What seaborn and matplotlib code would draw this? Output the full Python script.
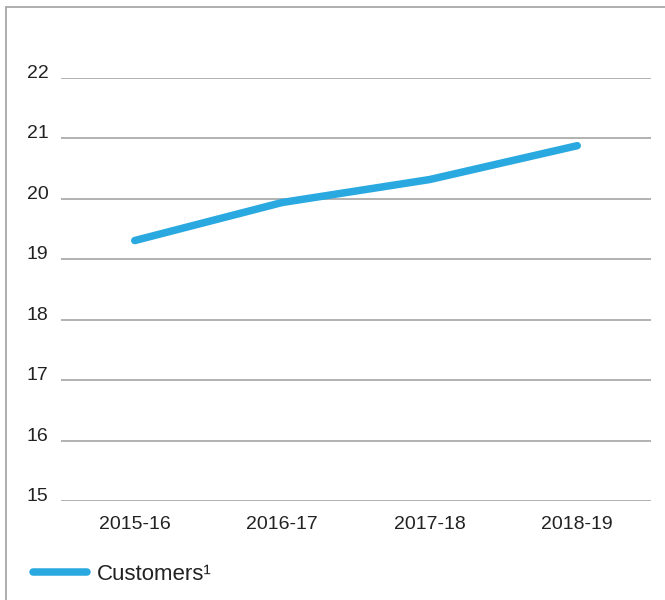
import matplotlib
matplotlib.use("Agg")
import matplotlib.pyplot as plt
from matplotlib.lines import Line2D
import seaborn as sns
import pandas as pd

years = ["2015-16", "2016-17", "2017-18", "2018-19"]
customers = [19.31, 19.94, 20.32, 20.88]
y_ticks = [15, 16, 17, 18, 19, 20, 21, 22]
series_label = "Customers\u00b9"

sns.set_theme(style="white")
plt.rcParams["font.family"] = ["Liberation Sans", "DejaVu Sans"]

df = pd.DataFrame({"year": years, "customers": customers})

fig = plt.figure(figsize=(6.65, 6.0), dpi=100)
ax = fig.add_axes([61 / 665, 1 - 501 / 600, (651 - 61) / 665, (501 - 78) / 600])

line_color = "#29A9E0"
lw = 5.4
sns.lineplot(data=df, x="year", y="customers", ax=ax, color=line_color,
             linewidth=lw, solid_capstyle="round", solid_joinstyle="round",
             sort=False, label=series_label, legend=False)
for l in ax.lines:
    l.set_clip_on(False)

ax.set_xlim(-0.5, len(years) - 0.5)
ax.set_ylim(15, 22)
ax.set_yticks(y_ticks)
ax.set_yticklabels([str(t) for t in y_ticks])
ax.set_xlabel("")
ax.set_ylabel("")
ax.grid(axis="y", color="#9c9c9c", linewidth=1.1)
ax.grid(axis="x", visible=False)
for s in ax.spines.values():
    s.set_visible(False)
text_color = "#222222"
ax.tick_params(axis="y", length=0, pad=9, labelsize=14, labelcolor=text_color)
ax.tick_params(axis="x", length=0, pad=11, labelsize=14, labelcolor=text_color)
for t in ax.get_yticklabels():
    t.set_verticalalignment("baseline")

handles = [Line2D([0], [0], color=line_color, linewidth=lw, solid_capstyle="round")]
fig.legend(handles, [series_label], loc="center left",
           bbox_to_anchor=(33 / 665, 1 - 574 / 600), frameon=False,
           borderaxespad=0, borderpad=0,
           fontsize=16, handlelength=2.45, handletextpad=0.42,
           labelcolor=text_color)

border = "#a8a8a8"
fig.add_artist(Line2D([6 / 665, 1.0], [1 - 7 / 600, 1 - 7 / 600],
                      transform=fig.transFigure, color=border, linewidth=1.3))
fig.add_artist(Line2D([6 / 665, 6 / 665], [0.0, 1 - 7 / 600],
                      transform=fig.transFigure, color=border, linewidth=1.3))

fig.savefig("out.png", dpi=100)
